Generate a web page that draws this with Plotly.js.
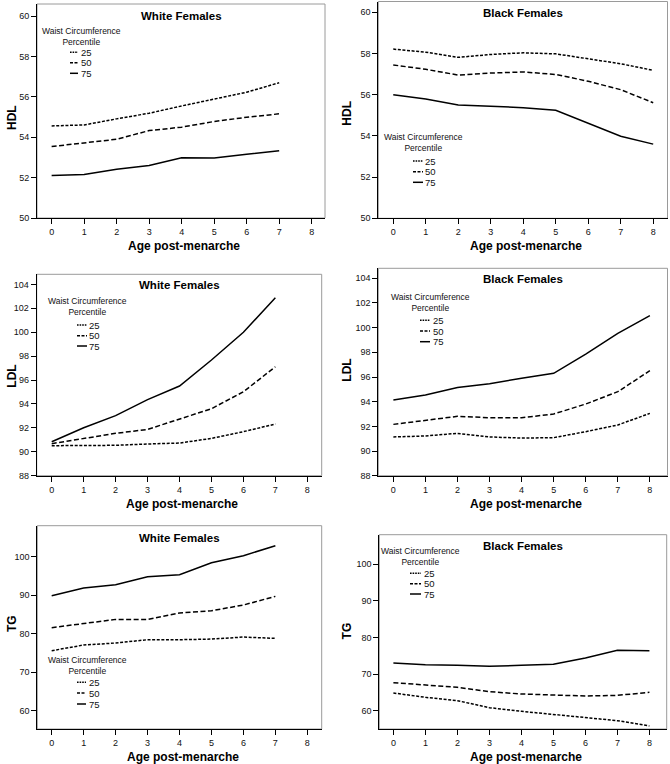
<!DOCTYPE html>
<html>
<head>
<meta charset="utf-8">
<script src="https://cdn.plot.ly/plotly-3.0.1.min.js"></script>
<style>html,body{margin:0;padding:0;background:#fff;}#chart{width:670px;height:764px;}</style>
</head>
<body>
<div id="chart"></div>
<script>
// ---- data ----
const agesWhite = [0, 1, 2, 3, 4, 5, 6, 7];
const agesBlack = [0, 1, 2, 3, 4, 5, 6, 7, 8];
const percentiles = ['25', '50', '75'];
const xTicks = [0, 1, 2, 3, 4, 5, 6, 7, 8];

const whiteHDL25 = [54.56, 54.61, 54.91, 55.19, 55.55, 55.90, 56.23, 56.70];
const whiteHDL50 = [53.54, 53.71, 53.90, 54.33, 54.50, 54.78, 54.99, 55.16];
const whiteHDL75 = [52.11, 52.16, 52.42, 52.60, 52.98, 52.97, 53.16, 53.33];

const blackHDL25 = [58.21, 58.06, 57.81, 57.95, 58.03, 57.98, 57.74, 57.50, 57.18];
const blackHDL50 = [57.44, 57.23, 56.95, 57.05, 57.10, 56.98, 56.65, 56.24, 55.61];
const blackHDL75 = [56.00, 55.79, 55.50, 55.44, 55.37, 55.24, 54.60, 53.98, 53.60];

const whiteLDL25 = [90.51, 90.51, 90.54, 90.65, 90.73, 91.12, 91.68, 92.32];
const whiteLDL50 = [90.68, 91.12, 91.54, 91.87, 92.74, 93.60, 95.02, 97.11];
const whiteLDL75 = [90.84, 92.01, 93.02, 94.36, 95.50, 97.67, 99.99, 102.88];

const blackLDL25 = [91.14, 91.22, 91.43, 91.14, 91.05, 91.08, 91.57, 92.11, 93.05];
const blackLDL50 = [92.16, 92.51, 92.81, 92.70, 92.70, 93.00, 93.81, 94.81, 96.51];
const blackLDL75 = [94.14, 94.54, 95.14, 95.46, 95.89, 96.30, 97.86, 99.54, 100.97];

const whiteTG25 = [75.58, 77.06, 77.58, 78.44, 78.44, 78.60, 79.13, 78.79];
const whiteTG50 = [81.56, 82.68, 83.72, 83.72, 85.37, 85.97, 87.45, 89.70];
const whiteTG75 = [89.87, 91.86, 92.73, 94.80, 95.32, 98.44, 100.26, 102.86];

const blackTG25 = [64.82, 63.64, 62.73, 60.82, 59.82, 58.91, 58.00, 57.27, 55.82];
const blackTG50 = [67.64, 67.09, 66.36, 65.18, 64.55, 64.27, 64.00, 64.18, 65.00];
const blackTG75 = [73.00, 72.55, 72.36, 72.09, 72.36, 72.64, 74.36, 76.45, 76.36];

const hdlTicks = [50, 52, 54, 56, 58, 60];
const ldlTicks = [88, 90, 92, 94, 96, 98, 100, 102, 104];
const tgTicks = [60, 70, 80, 90, 100];

const xTitle = 'Age post-menarche';
const legendTitle = 'Waist Circumference<br>Percentile';

// ---- layout helpers (pixel geometry) ----
const W = 670, H = 764;
const px = v => v / W;
const py = v => 1 - v / H;

const panels = [
  {title: 'White Females', ytitle: 'HDL', x: agesWhite, ys: [whiteHDL25, whiteHDL50, whiteHDL75], ticks: hdlTicks,
   box: [37, 325, 4, 218], xr: [-0.45, 8.41], yr: [50, 60.6], titleY: 16, xtY: 246, ytX: 12, ytY: 118,
   leg: {cx: 81, y1: 32, y2: 40.5, lx0: 70, lx1: 78, ly: [52.3, 62.7, 73.3]}},
  {title: 'Black Females', ytitle: 'HDL', x: agesBlack, ys: [blackHDL25, blackHDL50, blackHDL75], ticks: hdlTicks,
   box: [378.3, 667.5, 1.5, 218.3], xr: [-0.46, 8.44], yr: [50, 60.52], titleY: 12.7, xtY: 245.7, ytX: 346.7, ytY: 113,
   leg: {cx: 423.8, y1: 138.3, y2: 147.7, lx0: 413, lx1: 423, ly: [161, 171.7, 182.3]}},
  {title: 'White Females', ytitle: 'LDL', x: agesWhite, ys: [whiteLDL25, whiteLDL50, whiteLDL75], ticks: ldlTicks,
   box: [36.7, 321.7, 274.3, 475.7], xr: [-0.47, 8.45], yr: [88, 104.84], titleY: 285, xtY: 504.3, ytX: 12, ytY: 376.7,
   leg: {cx: 87.5, y1: 302.7, y2: 311, lx0: 77, lx1: 87, ly: [325, 335.7, 346]}},
  {title: 'Black Females', ytitle: 'LDL', x: agesBlack, ys: [blackLDL25, blackLDL50, blackLDL75], ticks: ldlTicks,
   box: [378.3, 667.5, 268.3, 475.7], xr: [-0.47, 8.55], yr: [88, 104.81], titleY: 279.3, xtY: 504.3, ytX: 346.7, ytY: 370,
   leg: {cx: 430.8, y1: 297.7, y2: 306.7, lx0: 420, lx1: 430, ly: [320.3, 331, 341.7]}},
  {title: 'White Females', ytitle: 'TG', x: agesWhite, ys: [whiteTG25, whiteTG50, whiteTG75], ticks: tgTicks,
   box: [37.3, 321.7, 525.7, 729], xr: [-0.45, 8.45], yr: [55.25, 108.05], titleY: 538, xtY: 757.3, ytX: 12, ytY: 624,
   leg: {cx: 87, y1: 661.3, y2: 669.7, lx0: 77, lx1: 86, ly: [682.3, 693, 704]}},
  {title: 'Black Females', ytitle: 'TG', x: agesBlack, ys: [blackTG25, blackTG50, blackTG75], ticks: tgTicks,
   box: [379.3, 666.7, 534.7, 729], xr: [-0.44, 8.54], yr: [55.0, 108.0], titleY: 545.7, xtY: 757.3, ytX: 346.7, ytY: 630.7,
   leg: {cx: 420.5, y1: 552.3, y2: 560.7, lx0: 410, lx1: 421, ly: [573.3, 583.7, 594]}}
];

const dashes = ['3px,1.6px', '5px,2.5px', 'solid'];
const FONT = 'Liberation Sans, Arial, sans-serif';

const traces = [];
const layout = {
  width: W, height: H,
  margin: {l: 0, r: 0, t: 0, b: 0},
  paper_bgcolor: '#fff', plot_bgcolor: '#fff',
  showlegend: false,
  font: {family: FONT, size: 9, color: '#111'},
  annotations: [], shapes: []
};

panels.forEach((p, i) => {
  const n = i + 1;
  const xa = 'xaxis' + (n === 1 ? '' : n);
  const ya = 'yaxis' + (n === 1 ? '' : n);
  const xr = 'x' + (n === 1 ? '' : n);
  const yr = 'y' + (n === 1 ? '' : n);
  p.ys.forEach((ys, k) => {
    traces.push({
      x: p.x, y: ys, type: 'scatter', mode: 'lines', xaxis: xr, yaxis: yr,
      name: percentiles[k], line: {color: '#000', width: 1.5, dash: dashes[k]},
      hoverinfo: 'x+y+name'
    });
  });
  const axCommon = {
    showgrid: false, zeroline: false, showline: true, linecolor: '#000', linewidth: 1,
    ticks: 'outside', ticklen: 5, tickwidth: 1, tickcolor: '#000', mirror: false,
    tickfont: {family: FONT, size: 9, color: '#111'}, fixedrange: true
  };
  layout[xa] = Object.assign({}, axCommon, {
    domain: [px(p.box[0]), px(p.box[1])], range: p.xr, anchor: yr,
    tickmode: 'array', tickvals: xTicks, ticktext: xTicks.map(String)
  });
  layout[ya] = Object.assign({}, axCommon, {
    domain: [py(p.box[3]), py(p.box[2])], range: p.yr, anchor: xr,
    tickmode: 'array', tickvals: p.ticks, ticktext: p.ticks.map(String)
  });
  // gray frame (top/right)
  layout.shapes.push({
    type: 'rect', xref: 'paper', yref: 'paper', layer: 'below',
    x0: px(p.box[0]), x1: px(p.box[1]), y0: py(p.box[3]), y1: py(p.box[2]),
    line: {color: '#9a9a9a', width: 1}
  });
  const cx = (p.box[0] + p.box[1]) / 2;
  // panel title
  layout.annotations.push({
    text: p.title, xref: 'paper', yref: 'paper', x: px(cx), y: py(p.titleY),
    xanchor: 'center', yanchor: 'middle', showarrow: false,
    font: {family: FONT, size: 11.5, color: '#000', weight: 'bold'}
  });
  // x-axis title
  layout.annotations.push({
    text: xTitle, xref: 'paper', yref: 'paper', x: px(cx + 3), y: py(p.xtY),
    xanchor: 'center', yanchor: 'middle', showarrow: false,
    font: {family: FONT, size: 12, color: '#000', weight: 'bold'}
  });
  // y-axis title
  layout.annotations.push({
    text: p.ytitle, xref: 'paper', yref: 'paper', x: px(p.ytX), y: py(p.ytY),
    xanchor: 'center', yanchor: 'middle', showarrow: false, textangle: -90,
    font: {family: FONT, size: 12, color: '#000', weight: 'bold'}
  });
  // legend
  const L = p.leg;
  layout.annotations.push({
    text: legendTitle, xref: 'paper', yref: 'paper', x: px(L.cx), y: py((L.y1 + L.y2) / 2),
    xanchor: 'center', yanchor: 'middle', showarrow: false, align: 'center',
    font: {family: FONT, size: 8.5, color: '#111'}
  });
  percentiles.forEach((lab, k) => {
    layout.shapes.push({
      type: 'line', xref: 'paper', yref: 'paper',
      x0: px(L.lx0), x1: px(L.lx1), y0: py(L.ly[k]), y1: py(L.ly[k]),
      line: {color: '#000', width: 1.5, dash: k === 0 ? '1.6px,1px' : (k === 1 ? '3px,1.5px' : 'solid')}
    });
    layout.annotations.push({
      text: lab, xref: 'paper', yref: 'paper', x: px(L.lx1 + 0.5), y: py(L.ly[k]),
      xanchor: 'left', yanchor: 'middle', showarrow: false,
      font: {family: FONT, size: 9.5, color: '#111'}
    });
  });
});

Plotly.newPlot('chart', traces, layout, {displayModeBar: false, staticPlot: true});
</script>
</body>
</html>
